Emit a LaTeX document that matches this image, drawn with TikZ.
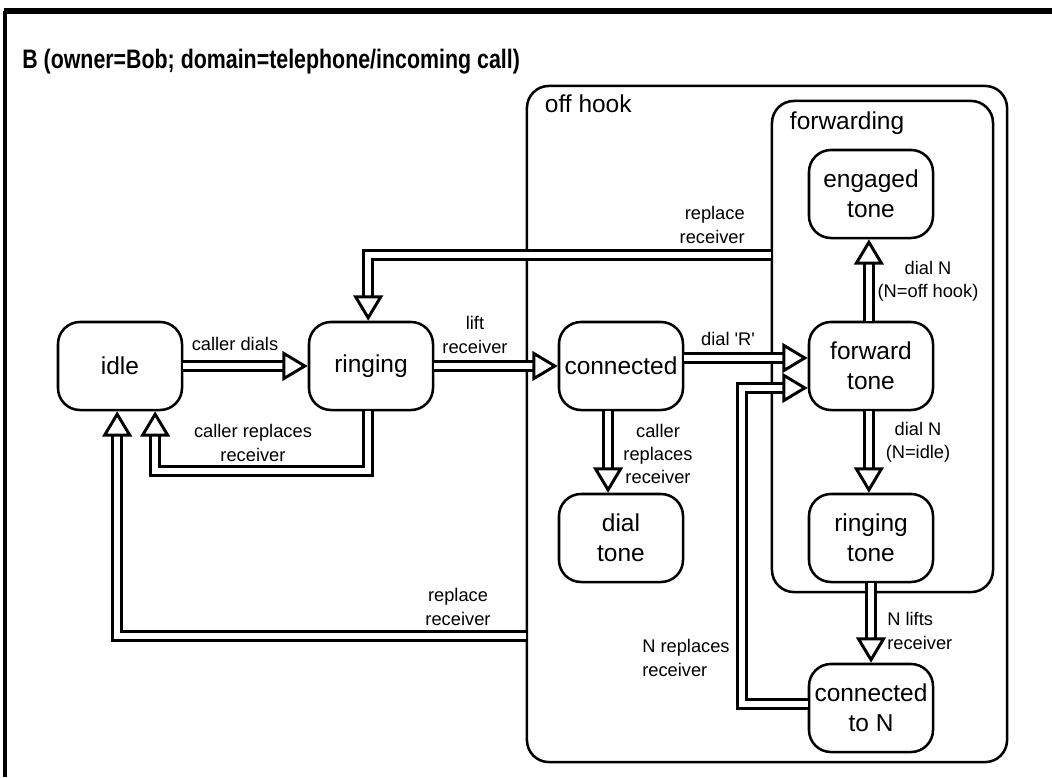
\documentclass[tikz,border=0pt]{standalone}
\usepackage{fontspec}
\setmainfont{Liberation Sans}
\usetikzlibrary{arrows.meta}

\tikzset{
  state/.style={draw, line width=1.8pt, rounded corners=0.55cm, minimum width=3.1cm,
    minimum height=2.2cm, align=center, inner sep=1pt, font=\fontsize{17.4}{21}\selectfont},
  region/.style={draw, line width=1.8pt, rounded corners=0.55cm, inner sep=0pt},
  trans/.style={double, line width=2.1pt, double distance=4.4pt,
    -{Triangle[length=18pt, width=21pt, line width=2.1pt, fill=white]}},
  lbl/.style={font=\fontsize{13}{16.5}\selectfont, align=center, inner sep=0pt},
}

\begin{document}
\begin{tikzpicture}[x=0.025cm, y=-0.025cm]
\useasboundingbox (0,0) rectangle (1052,777);

% frame and title
\draw[line width=2.2pt] (5,777) -- (5,11);
\draw[line width=3.6pt] (4,11) -- (1052,11);
\node[anchor=west, inner sep=0pt] (title) at (22,62)
  {\scalebox{0.8}[1]{\bfseries\fontsize{19}{22}\selectfont B (owner=Bob; domain=telephone/incoming call)}};

% regions
\node[region, minimum width=12cm, minimum height=16.9cm] (offhook) at (767,424) {};
\node[region, minimum width=5.525cm, minimum height=12.275cm] (forwarding) at (882.5,346.5) {};
\node[anchor=west, font=\fontsize{17.4}{21}\selectfont] (offhooklbl) at (540,104) {off hook};
\node[anchor=west, font=\fontsize{17.4}{21}\selectfont] (forwardinglbl) at (785,123) {forwarding};

% states
\node[state] (idle) at (120,366) {idle};
\node[state] (ringing) at (371,366) {ringing};
\node[state] (connected) at (621,366) {connected};
\node[state] (forward) at (871,366) {forward\\tone};
\node[state] (engaged) at (871,194) {engaged\\tone};
\node[state] (dialtone) at (621,538) {dial\\tone};
\node[state] (ringtone) at (871,538) {ringing\\tone};
\node[state] (connN) at (871,708) {connected\\to N};

% transitions
\draw[trans] (idle) -- (ringing);
\draw[trans] ([xshift=-2pt]ringing.south) -- ++(0,60) -| ([xshift=25pt]idle.south);
\draw[trans] (ringing) -- (connected);
\draw[trans] (forwarding.west |- 0,255) -| ([xshift=-2pt]ringing.north);
\draw[trans] ([yshift=5.7pt]connected.east) -- ([yshift=5.7pt]forward.west);
\draw[trans] ([xshift=-9.2pt]connected.south) -- ([xshift=-9.2pt]dialtone.north);
\draw[trans] ([xshift=-1.5pt]forward.north) -- ([xshift=-1.5pt]engaged.south);
\draw[trans] ([xshift=-1.5pt]forward.south) -- ([xshift=-1.5pt]ringtone.north);
\draw[trans] (ringtone) -- (connN);
\draw[trans] ([yshift=3pt]connN.west) -- ++(-66,0) |- ([yshift=-15.6pt]forward.west);
\draw[trans] (offhook.west |- 0,636) -| ([xshift=-2pt]idle.south);

% labels
\node[lbl] (l1) at (235,344) {caller dials};
\node[lbl] (l2) at (253,443) {caller replaces\\receiver};
\node[lbl] (l3) at (475,335) {lift\\receiver};
\node[lbl, anchor=east, align=right] (l4) at (745,225) {replace\\receiver};
\node[lbl] (l5) at (728,339) {dial \textquotesingle R\textquotesingle};
\node[lbl] (l6) at (658,454) {caller\\replaces\\receiver};
\node[lbl] (l7) at (928,281) {dial N\\(N=off hook)};
\node[lbl] (l8) at (918,442) {dial N\\(N=idle)};
\node[lbl, anchor=west, align=left] (l9) at (887,631) {N lifts\\receiver};
\node[lbl, anchor=west, align=left] (l10) at (642,658) {N replaces\\receiver};
\node[lbl] (l11) at (458,607) {replace\\receiver};
\end{tikzpicture}
\end{document}
